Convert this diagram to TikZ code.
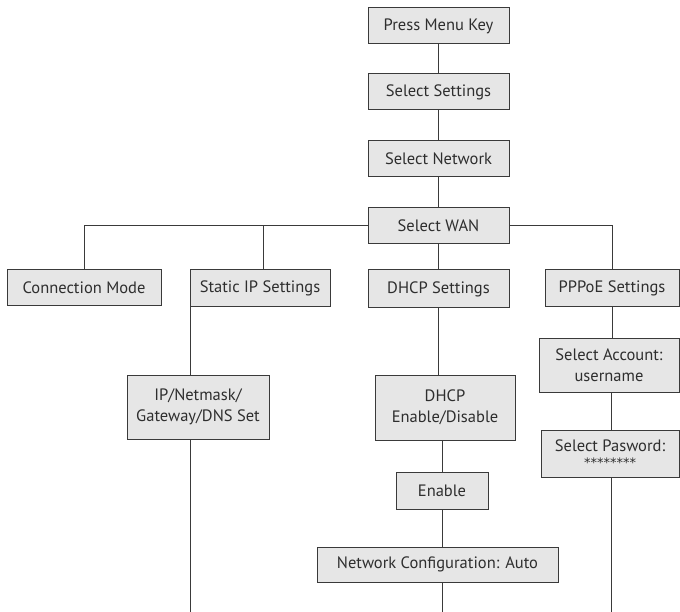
\documentclass[tikz,border=0pt]{standalone}
\usepackage{fontspec}
\setmainfont{PT Sans}
\newfontfamily\starfont{DejaVu Sans}
\definecolor{boxfill}{HTML}{E6E6E6}
\definecolor{edge}{HTML}{3A3A3A}
\definecolor{ink}{HTML}{2E2E2E}
\begin{document}
\begin{tikzpicture}[x=1pt,y=-1pt,
  box/.style={draw=edge, fill=boxfill, line width=1pt, inner sep=0pt, outer sep=0pt,
    align=center, font=\fontsize{16.5}{21}\selectfont, text=ink},
  link/.style={draw=edge, line width=1pt}]
\useasboundingbox (0,0) rectangle (680,612);

% main chain
\node[box, minimum width=141pt, minimum height=36pt] (press)    at (438.5,26)  {Press Menu Key};
\node[box, minimum width=141pt, minimum height=36pt] (settings) at (438.5,92)  {Select Settings};
\node[box, minimum width=141pt, minimum height=36pt] (network)  at (438.5,159) {Select Network};
\node[box, minimum width=141pt, minimum height=36pt] (wan)      at (438.5,226) {Select WAN};

% second level
\node[box, minimum width=154pt, minimum height=36pt] (conn)   at (84,288)  {Connection Mode};
\node[box, minimum width=140pt, minimum height=37pt] (static) at (260,288.5) {Static IP Settings};
\node[box, minimum width=141pt, minimum height=38pt] (dhcp)   at (438.5,289) {DHCP Settings};
\node[box, minimum width=134pt, minimum height=37pt] (pppoe)  at (612,288.5) {PPPoE Settings};

% static IP branch
\node[box, minimum width=142pt, minimum height=64pt] (ipset) at (198,407) {IP/Netmask/\\Gateway/DNS Set};

% DHCP branch
\node[box, minimum width=140pt, minimum height=65pt] (dhcpen) at (445,407.5) {DHCP\\Enable/Disable};
\node[box, minimum width=92pt, minimum height=37pt]  (enable) at (442,490.5) {Enable};
\node[box, minimum width=241pt, minimum height=35pt] (auto)   at (437.5,564.5) {Network Configuration: Auto};

% PPPoE branch
\node[box, minimum width=140pt, minimum height=54pt] (account) at (609,365) {Select Account:\\username};
\node[box, minimum width=138pt, minimum height=47pt] (passwd)  at (610,453.5)
  {\raisebox{2pt}{Select Pasword:}\\[-7pt]{\starfont\fontsize{13}{13}\selectfont ********}};

% open ends at the bottom edge
\coordinate (endA) at (190,612);
\coordinate (endB) at (442,612);
\coordinate (endC) at (611,612);

% connectors
\draw[link] (press) -- (settings);
\draw[link] (settings) -- (network);
\draw[link] (network) -- (wan);
\draw[link] (wan.west) -| (conn.north);
\draw[link] (wan.west) -| (263,0 |- static.north);
\draw[link] (wan) -- (dhcp);
\draw[link] (wan.east) -| (pppoe.north);

\draw[link] (static.south west) -- (static.south west |- ipset.north);
\draw[link] (ipset.south -| endA) -- (endA);

\draw[link] (dhcp.south) -- (dhcp.south |- dhcpen.north);
\draw[link] (enable.north |- dhcpen.south) -- (enable.north);
\draw[link] (enable.south) -- (enable.south |- auto.north);
\draw[link] (auto.south -| endB) -- (endB);

\draw[link] (pppoe.south) -- (pppoe.south |- account.north);
\draw[link] (account.south -| endC) -- (endC |- passwd.north);
\draw[link] (passwd.south -| endC) -- (endC);
\end{tikzpicture}
\end{document}
